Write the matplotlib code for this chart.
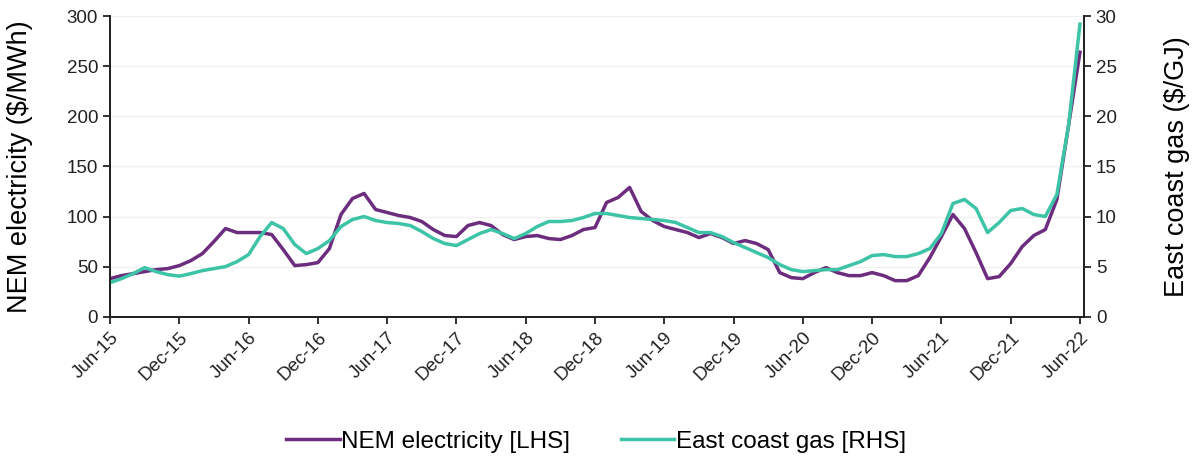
import matplotlib.pyplot as plt
import numpy as np

plt.rcParams["font.family"] = ["Liberation Sans", "DejaVu Sans"]

# monthly, Jun-15 .. Jun-22
electricity = [38, 41, 43, 45, 47, 48, 51, 56, 63, 75, 88,
               84, 84, 84, 82, 67, 51, 52, 54, 68, 102, 118, 123, 107,
               104, 101, 99, 95, 87, 81, 80, 91, 94, 91, 82, 77, 80,
               81, 78, 77, 81, 87, 89, 114, 119, 129, 105, 96, 90,
               87, 84, 79, 83, 79, 73, 76, 73, 67, 44, 39, 38,
               44, 49, 44, 41, 41, 44, 41, 36, 36, 41, 59, 80,
               102, 88, 64, 38, 40, 53, 70, 81, 87, 117, 190, 264]
gas = [3.4, 3.8, 4.3, 4.9, 4.5, 4.2, 4.05, 4.3, 4.6, 4.8, 5.0,
       5.5, 6.2, 8.0, 9.4, 8.8, 7.2, 6.3, 6.8, 7.6, 9.0, 9.7, 10.0, 9.6,
       9.4, 9.3, 9.1, 8.5, 7.8, 7.3, 7.1, 7.7, 8.3, 8.7, 8.3, 7.8, 8.3,
       9.0, 9.5, 9.5, 9.6, 9.9, 10.3, 10.3, 10.1, 9.9, 9.8, 9.7, 9.6,
       9.4, 8.9, 8.4, 8.4, 8.0, 7.4, 6.9, 6.4, 5.9, 5.2, 4.7, 4.5,
       4.6, 4.7, 4.7, 5.1, 5.5, 6.1, 6.2, 6.0, 6.0, 6.3, 6.8, 8.3,
       11.3, 11.7, 10.8, 8.4, 9.4, 10.6, 10.8, 10.2, 10.0, 12.2, 19.0, 29.2]
tick_labels = ["Jun-15", "Dec-15", "Jun-16", "Dec-16", "Jun-17", "Dec-17",
               "Jun-18", "Dec-18", "Jun-19", "Dec-19", "Jun-20", "Dec-20",
               "Jun-21", "Dec-21", "Jun-22"]

purple = "#6c2d7e"
teal = "#3dc4a6"

fig = plt.figure(figsize=(11.92, 4.61), dpi=100)
ax = fig.add_axes([0.0923, 0.313, 0.8171, 0.652])
ax2 = ax.twinx()

x = np.arange(len(electricity))
l1, = ax.plot(x, electricity, color=purple, lw=2.5, label="NEM electricity [LHS]")
l2, = ax2.plot(x, gas, color=teal, lw=2.5, label="East coast gas [RHS]")

ax.set_xlim(0, 84.35)
ax.set_ylim(0, 300)
ax2.set_ylim(0, 30)
ax.set_yticks(np.arange(0, 301, 50))
ax2.set_yticks(np.arange(0, 31, 5))
ax.set_xticks(np.arange(0, 85, 6))
ax.set_xticklabels(tick_labels, rotation=45, ha="right", rotation_mode="anchor")

ax.grid(axis="y", color="#f0f0f0", lw=1)
ax.set_axisbelow(True)
for a in (ax, ax2):
    a.spines["top"].set_visible(False)
    for s in ("left", "right", "bottom"):
        a.spines[s].set_linewidth(1.3)
        a.spines[s].set_color("#222222")
    a.tick_params(direction="out", length=5, width=1.3, labelsize=13.5, colors="#222222")
ax.tick_params(axis="x", pad=4)

ax.set_ylabel("NEM electricity ($/MWh)", fontsize=19.5, labelpad=24)
ax2.set_ylabel("East coast gas ($/GJ)", fontsize=19.5, labelpad=34)

fig.legend(handles=[l1, l2], loc="center", bbox_to_anchor=(0.5, 0.042), ncol=2,
           frameon=False, fontsize=17.5, handlelength=2.2, handletextpad=0.05,
           columnspacing=2.1)

fig.savefig("out.png", dpi=100)
